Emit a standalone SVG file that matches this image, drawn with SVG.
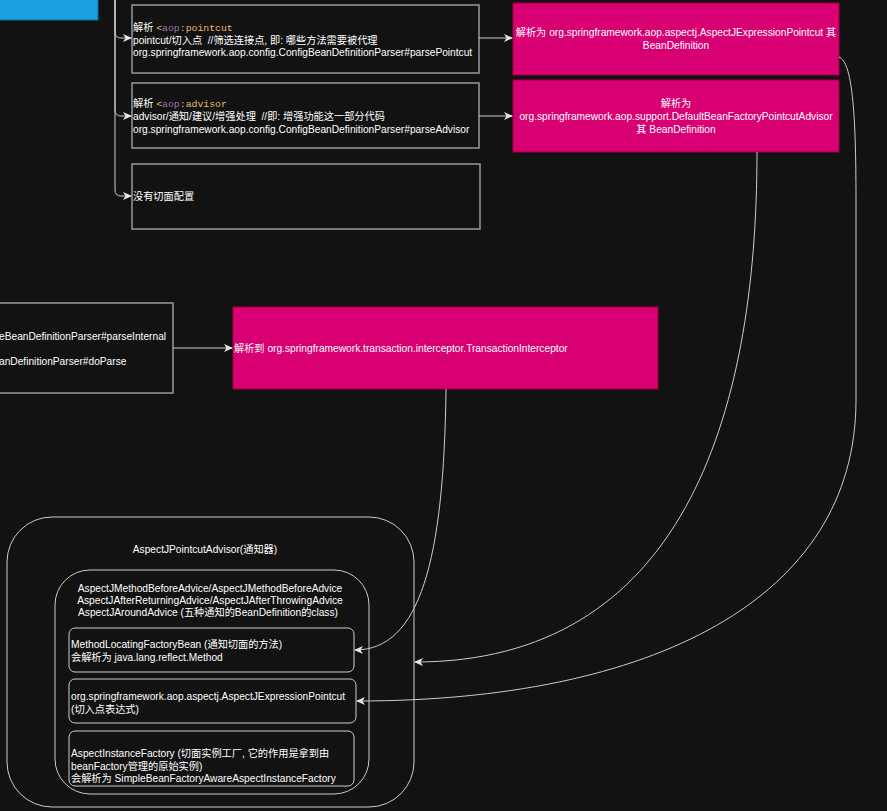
<svg xmlns="http://www.w3.org/2000/svg" width="887" height="811" viewBox="0 0 887 811">
<defs>
<style>
text{font-family:"Liberation Sans","Noto Sans CJK SC",sans-serif;font-size:10.2px;fill:#ffffff;white-space:pre;}
.mono{font-family:"Liberation Mono","Noto Sans CJK SC",monospace;font-size:9.8px;}
.box{fill:#121212;stroke:#999999;stroke-width:1.5;}
.pink{fill:#d80073;stroke:#a50040;stroke-width:1;}
.cont{fill:#121212;stroke:#cccccc;stroke-width:1;}
.edge{fill:none;stroke:#cccccc;stroke-width:1;}
.mid{text-anchor:middle;}
</style>
<marker id="arr" markerWidth="10" markerHeight="10" refX="8" refY="4" orient="auto" markerUnits="userSpaceOnUse">
<path d="M0,0 L9,4 L0,8 L2.5,4 Z" fill="#e6e6e6"/>
</marker>
</defs>
<rect width="887" height="811" fill="#121212"/>

<g id="blue-box">
<rect x="-2" y="-2" width="100" height="22" fill="#1ba1e2" stroke="#006eaf" stroke-width="1"/>
</g>

<g id="pointcut-box">
<rect class="box" x="132" y="5" width="347" height="68"/>
<text x="133" y="31">解析 <tspan class="mono" fill="#e8bf6a">&lt;</tspan><tspan class="mono" fill="#9876aa">aop</tspan><tspan class="mono" fill="#e8bf6a">:pointcut</tspan></text>
<text x="133" y="44" xml:space="preserve">pointcut/切入点  //筛选连接点, 即: 哪些方法需要被代理</text>
<text x="133" y="56">org.springframework.aop.config.ConfigBeanDefinitionParser#parsePointcut</text>
</g>

<g id="advisor-box">
<rect class="box" x="132" y="83" width="347" height="65"/>
<text x="133" y="107">解析 <tspan class="mono" fill="#e8bf6a">&lt;</tspan><tspan class="mono" fill="#9876aa">aop</tspan><tspan class="mono" fill="#e8bf6a">:advisor</tspan></text>
<text x="133" y="120" xml:space="preserve">advisor/通知/建议/增强处理  //即: 增强功能这一部分代码</text>
<text x="133" y="133">org.springframework.aop.config.ConfigBeanDefinitionParser#parseAdvisor</text>
</g>

<g id="no-aspect-box">
<rect class="box" x="132" y="164" width="348" height="65"/>
<text x="133" y="200">没有切面配置</text>
</g>

<g id="pink-pointcut">
<rect class="pink" x="513" y="3" width="326" height="72"/>
<text class="mid" x="676" y="36">解析为 org.springframework.aop.aspectj.AspectJExpressionPointcut 其</text>
<text class="mid" x="676" y="49">BeanDefinition</text>
</g>

<g id="pink-advisor">
<rect class="pink" x="513" y="80" width="326" height="72"/>
<text class="mid" x="676" y="107">解析为</text>
<text class="mid" x="676" y="120">org.springframework.aop.support.DefaultBeanFactoryPointcutAdvisor</text>
<text class="mid" x="676" y="133">其 BeanDefinition</text>
</g>

<g id="left-box">
<rect class="box" x="-10" y="303" width="183" height="90"/>
<text x="-1" y="340">eBeanDefinitionParser#parseInternal</text>
<text x="-1" y="365">anDefinitionParser#doParse</text>
</g>

<g id="pink-interceptor">
<rect class="pink" x="233" y="307" width="425" height="82"/>
<text x="234" y="352">解析到 org.springframework.transaction.interceptor.TransactionInterceptor</text>
</g>

<g id="advisor-container">
<rect class="cont" x="7" y="517" width="407" height="290" rx="45" ry="45"/>
<text class="mid" x="205" y="553">AspectJPointcutAdvisor(通知器)</text>
</g>

<g id="advice-container">
<rect class="cont" x="55" y="570" width="314" height="224" rx="35" ry="35"/>
<text class="mid" x="210" y="592">AspectJMethodBeforeAdvice/AspectJMethodBeforeAdvice</text>
<text class="mid" x="210" y="604">AspectJAfterReturningAdvice/AspectJAfterThrowingAdvice</text>
<text class="mid" x="208" y="616">AspectJAroundAdvice (五种通知的BeanDefinition的class)</text>
</g>

<g id="method-locating">
<rect class="cont" x="69" y="628" width="285" height="44" rx="6" ry="6"/>
<text x="71" y="648">MethodLocatingFactoryBean (通知切面的方法)</text>
<text x="71" y="661">会解析为 java.lang.reflect.Method</text>
</g>

<g id="expression-pointcut">
<rect class="cont" x="69" y="679" width="287" height="44" rx="6" ry="6"/>
<text x="71" y="700">org.springframework.aop.aspectj.AspectJExpressionPointcut</text>
<text x="71" y="713">(切入点表达式)</text>
</g>

<g id="instance-factory">
<rect class="cont" x="69" y="731" width="285" height="55" rx="6" ry="6"/>
<text x="71" y="757">AspectInstanceFactory (切面实例工厂, 它的作用是拿到由</text>
<text x="71" y="770">beanFactory管理的原始实例)</text>
<text x="71" y="782">会解析为 SimpleBeanFactoryAwareAspectInstanceFactory</text>
</g>

<g id="connectors">
<path class="edge" d="M115 0 L115 32 Q115 38 121 38 L131 38" marker-end="url(#arr)"/>
<path class="edge" d="M115 0 L115 110 Q115 116 121 116 L131 116" marker-end="url(#arr)"/>
<path class="edge" d="M115 0 L115 190 Q115 196 121 196 L131 196" marker-end="url(#arr)"/>
<path class="edge" d="M479 38 L512 38" marker-end="url(#arr)"/>
<path class="edge" d="M479 116 L512 116" marker-end="url(#arr)"/>
<path class="edge" d="M173 348 L232 348" marker-end="url(#arr)"/>
<path class="edge" d="M446 389 C444 560 420 650 355 650" marker-end="url(#arr)"/>
<path class="edge" d="M757 152 C757 420 680 662 415 662" marker-end="url(#arr)"/>
<path class="edge" d="M839 57 C852 62 856 110 856 200 L856 400 C856 600 650 701 357 701" marker-end="url(#arr)"/>
</g>
</svg>
